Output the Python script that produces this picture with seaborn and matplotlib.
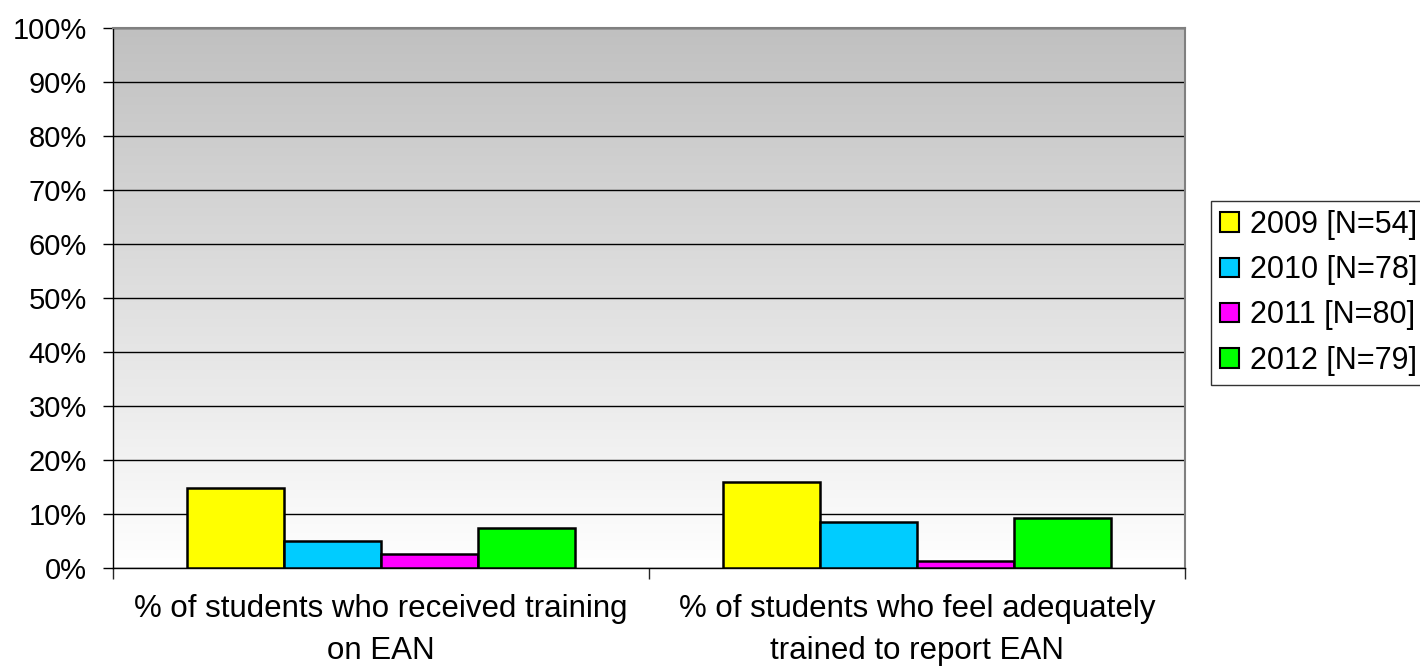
import numpy as np
import pandas as pd
import matplotlib
matplotlib.use('Agg')
import matplotlib.pyplot as plt
import seaborn as sns
from matplotlib.ticker import PercentFormatter, FixedLocator

categories = ['% of students who received training\non EAN',
              '% of students who feel adequately\ntrained to report EAN']
years = ['2009 [N=54]', '2010 [N=78]', '2011 [N=80]', '2012 [N=79]']
vals_2009 = [14.8, 16.0]
vals_2010 = [5.0, 8.5]
vals_2011 = [2.6, 1.3]
vals_2012 = [7.5, 9.3]
colors = ['#ffff00', '#00ccff', '#ff00ff', '#00ff00']

rows = []
for year, vals in zip(years, [vals_2009, vals_2010, vals_2011, vals_2012]):
    for cat, v in zip(categories, vals):
        rows.append({'category': cat, 'year': year, 'value': v})
df = pd.DataFrame(rows)

sns.set_style('white')
plt.rcParams['font.family'] = ['Liberation Sans', 'DejaVu Sans']
plt.rcParams['text.color'] = 'black'

fig = plt.figure(figsize=(14.2, 6.67), dpi=100)
ax = fig.add_axes([0.0796, 0.1484, 0.7549, 0.8096])

# gradient background, gray at the top fading to white
grad = np.linspace(0, 1, 256).reshape(-1, 1)
cmap = matplotlib.colors.LinearSegmentedColormap.from_list('bg', ['#ffffff', '#c0c0c0'])
ax.imshow(grad, aspect='auto', cmap=cmap, origin='lower',
          extent=[-0.5, 1.5, 0, 100], zorder=0)

sns.barplot(data=df, x='category', y='value', hue='year', palette=colors,
            saturation=1, width=0.725, edgecolor='black', linewidth=1.8,
            ax=ax, zorder=3)

ax.set_xlim(-0.5, 1.5)
ax.set_ylim(0, 100)
ax.set_yticks(np.arange(0, 101, 10))
ax.yaxis.set_major_formatter(PercentFormatter(decimals=0))
ax.grid(axis='y', color='black', linewidth=1, zorder=1)
ax.set_axisbelow(True)
ax.set_xlabel('')
ax.set_ylabel('')

ax.tick_params(axis='y', labelsize=21, length=7, width=1, direction='out',
               left=True, pad=12, colors='black')
ax.tick_params(axis='x', which='major', length=0, labelsize=22.5, pad=19,
               colors='black')
for lbl in ax.get_xticklabels():
    lbl.set_linespacing(1.5)
ax.xaxis.set_minor_locator(FixedLocator([-0.5, 0.5, 1.5]))
ax.tick_params(axis='x', which='minor', length=8, width=1, direction='out', bottom=True)

for side in ['top', 'right']:
    ax.spines[side].set_color('#808080')
    ax.spines[side].set_linewidth(1.5)
for side in ['left', 'bottom']:
    ax.spines[side].set_color('black')
    ax.spines[side].set_linewidth(1)

leg = ax.legend(loc='center left', bbox_to_anchor=(0.853, 0.561),
                bbox_transform=fig.transFigure, fontsize=22, frameon=True,
                fancybox=False, edgecolor='black', handlelength=0.6,
                handleheight=0.6, handletextpad=0.36, borderpad=0.3,
                labelspacing=0.5, borderaxespad=0)
leg.get_frame().set_linewidth(1)
for h in leg.legend_handles:
    h.set_edgecolor('black')
    h.set_linewidth(1.5)

fig.savefig('out.png', dpi=100)
plt.close(fig)
